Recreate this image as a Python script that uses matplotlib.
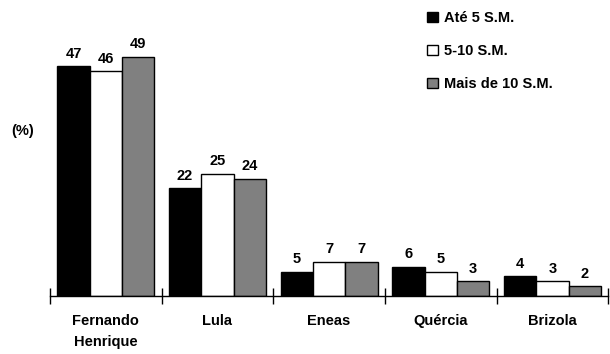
import numpy as np
import matplotlib.pyplot as plt
from matplotlib.patches import Patch

plt.rcParams['font.family'] = ['Liberation Sans', 'DejaVu Sans']
plt.rcParams['font.weight'] = 'bold'

categories = ['Fernando\nHenrique', 'Lula', 'Eneas', 'Quércia', 'Brizola']
series_names = ['Até 5 S.M.', '5-10 S.M.', 'Mais de 10 S.M.']
ate5 = [47, 22, 5, 6, 4]
de5a10 = [46, 25, 7, 5, 3]
mais10 = [49, 24, 7, 3, 2]
colors = ['#000000', '#ffffff', '#808080']

fig = plt.figure(figsize=(6.1, 3.54), dpi=100)
ax = fig.add_axes([0.082, 0.164, 0.915, 0.828])

x = np.arange(len(categories))
w = 0.29
for i, (vals, c) in enumerate(zip([ate5, de5a10, mais10], colors)):
    pos = x + (i - 1) * w
    ax.bar(pos, vals, w, color=c, edgecolor='black', linewidth=1)
    for p, v in zip(pos, vals):
        ax.annotate(str(v), (p, v), xytext=(0, 4), textcoords='offset points',
                    ha='center', va='bottom', fontsize=10.5, fontweight='bold')

ax.set_xlim(-0.5, 4.5)
ax.set_ylim(0, 60)
for s in ['top', 'right', 'left']:
    ax.spines[s].set_visible(False)
ax.spines['bottom'].set_linewidth(1)
ax.set_yticks([])
ax.set_xticks(x)
ax.set_xticklabels(categories, fontsize=10.5, fontweight='bold', linespacing=1.6)
ax.tick_params(axis='x', which='major', length=0, pad=13)
ax.set_xticks(np.arange(-0.5, 5, 1), minor=True)
ax.tick_params(axis='x', which='minor', direction='inout', length=11, width=1)

fig.text(0.018, 0.63, '(%)', fontsize=10.5, fontweight='bold', ha='left', va='center')

handles = [Patch(facecolor=c, edgecolor='black', linewidth=1) for c in colors]
fig.legend(handles, series_names, loc='upper left', bbox_to_anchor=(0.69, 0.985),
           frameon=False, fontsize=10.5, handlelength=0.75, handleheight=0.75,
           handletextpad=0.4, labelspacing=1.3, borderaxespad=0)

fig.savefig('out.png', dpi=100)
